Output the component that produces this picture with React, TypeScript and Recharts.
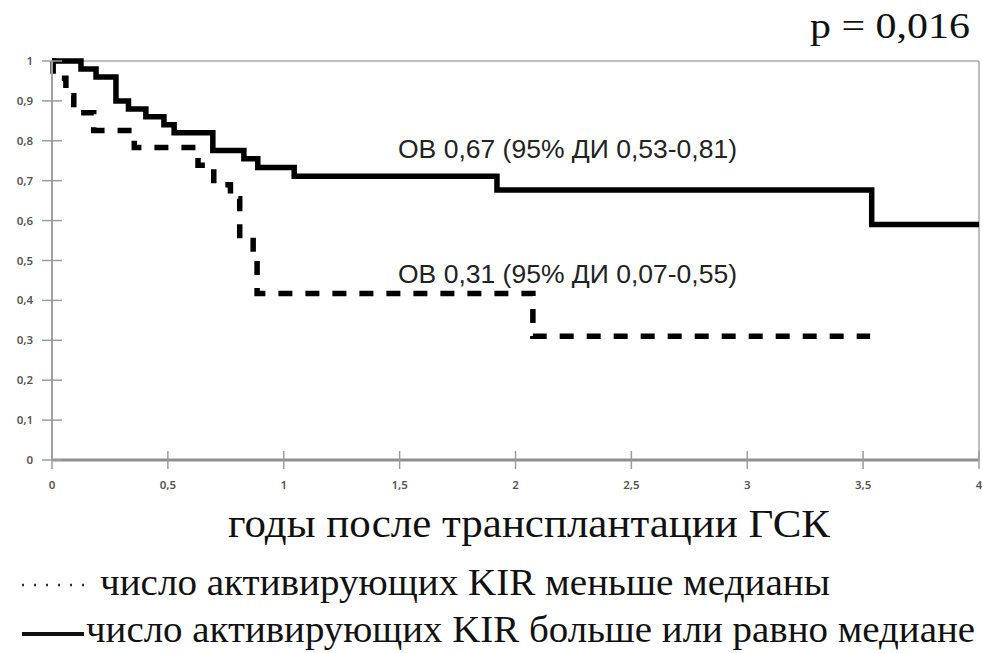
import { Line, LineChart, ReferenceLine, XAxis, YAxis } from 'recharts';

// Kaplan-Meier steps (years, survival)
const solidTimes = [0, 0.125, 0.19, 0.276, 0.33, 0.405, 0.483, 0.527, 0.694, 0.828, 0.888, 1.045, 1.92, 3.537, 4];
const solidSurv = [1, 0.98, 0.96, 0.9, 0.88, 0.86, 0.84, 0.82, 0.776, 0.755, 0.733, 0.711, 0.677, 0.59, 0.59];

const dashTimes = [0, 0.005, 0.06, 0.094, 0.18, 0.355, 0.63, 0.698, 0.77, 0.81, 0.868, 0.885, 2.075, 3.53];
const dashSurv = [1, 0.957, 0.913, 0.87, 0.826, 0.783, 0.739, 0.69, 0.655, 0.55, 0.52, 0.417, 0.31, 0.31];

const xTicks = [0, 0.5, 1, 1.5, 2, 2.5, 3, 3.5, 4];
const yTicks = [0, 0.1, 0.2, 0.3, 0.4, 0.5, 0.6, 0.7, 0.8, 0.9, 1];

const pValue = 'p = 0,016';
const noteHigh = 'ОВ 0,67 (95% ДИ 0,53-0,81)';
const noteLow = 'ОВ 0,31 (95% ДИ 0,07-0,55)';
const xTitle = 'годы после трансплантации ГСК';
const legendLow = 'число активирующих KIR меньше медианы';
const legendHigh = 'число активирующих KIR больше или равно медиане';

const solidData = solidTimes.map((t, i) => ({ t, s: solidSurv[i] }));
const dashData = dashTimes.map((t, i) => ({ t, s: dashSurv[i] }));

const fmt = (v: number) => String(Math.round(v * 10) / 10).replace('.', ',');

const tickFont = { fontFamily: '"Noto Sans", Arial, sans-serif', fontSize: 11.5, fontWeight: 600, fill: '#555' };
const serif = '"Liberation Serif", "Times New Roman", serif';
const sans = '"Liberation Sans", Arial, sans-serif';

const YTick = (props: any) => {
    const { x, y, payload } = props;
    return (
        <g>
            <line x1={x + 9} x2={x + 29} y1={y} y2={y} stroke="#9c9c9c" strokeWidth={1.5} />
            <text x={x} y={y} dy={4} textAnchor="end" {...tickFont}>
                {fmt(payload.value)}
            </text>
        </g>
    );
};

const XTick = (props: any) => {
    const { x, y, payload } = props;
    return (
        <g>
            <line x1={x} x2={x} y1={y - 29} y2={y - 11} stroke="#9c9c9c" strokeWidth={1.5} />
            <text x={x} y={y} dy={9} textAnchor="middle" {...tickFont}>
                {fmt(payload.value)}
            </text>
        </g>
    );
};

export default function App() {
    return (
        <div style={{ position: 'absolute', left: 0, top: 0, width: 982, height: 653, background: '#fff' }}>
            <LineChart width={982} height={653} margin={{ top: 61, right: 3, left: 0, bottom: 153 }}>
                <XAxis
                    type="number"
                    dataKey="t"
                    domain={[0, 4]}
                    ticks={xTicks}
                    interval={0}
                    height={40}
                    tickSize={0}
                    tickMargin={20}
                    tick={XTick}
                    axisLine={{ stroke: '#8f8f8f', strokeWidth: 3 }}
                    allowDuplicatedCategory={false}
                />
                <YAxis
                    type="number"
                    dataKey="s"
                    domain={[0, 1]}
                    ticks={yTicks}
                    interval={0}
                    width={52}
                    tickSize={0}
                    tickMargin={19}
                    tick={YTick}
                    axisLine={{ stroke: '#a0a0a0', strokeWidth: 2 }}
                />
                <ReferenceLine y={1} stroke="#a8a8a8" strokeWidth={1.5} />
                <ReferenceLine x={4} stroke="#a8a8a8" strokeWidth={1.5} />
                <Line
                    data={solidData}
                    dataKey="s"
                    type="stepAfter"
                    stroke="#000"
                    strokeWidth={5.5}
                    dot={false}
                    isAnimationActive={false}
                />
                <Line
                    data={dashData}
                    dataKey="s"
                    type="stepAfter"
                    stroke="#000"
                    strokeWidth={5.5}
                    strokeDasharray="14 13"
                    dot={false}
                    isAnimationActive={false}
                />
            </LineChart>
            <svg
                width={982}
                height={653}
                style={{ position: 'absolute', left: 0, top: 0, pointerEvents: 'none' }}
            >
                <text x={810} y={38} fontFamily={serif} fontSize={36} textLength={160} lengthAdjust="spacingAndGlyphs" fill="#111">
                    {pValue}
                </text>
                <text x={398} y={158} fontFamily={sans} fontSize={26} textLength={339} lengthAdjust="spacingAndGlyphs" fill="#222">
                    {noteHigh}
                </text>
                <text x={398} y={283} fontFamily={sans} fontSize={26} textLength={339} lengthAdjust="spacingAndGlyphs" fill="#222">
                    {noteLow}
                </text>
                <text x={228} y={537} fontFamily={serif} fontSize={39} textLength={602} lengthAdjust="spacingAndGlyphs" fill="#111">
                    {xTitle}
                </text>
                <line x1={22} x2={88} y1={585} y2={585} stroke="#333" strokeWidth={2.5} strokeDasharray="2 10" />
                <text x={100} y={595} fontFamily={serif} fontSize={38} textLength={730} lengthAdjust="spacingAndGlyphs" fill="#111">
                    {legendLow}
                </text>
                <line x1={22} x2={84} y1={634} y2={634} stroke="#111" strokeWidth={4} />
                <text x={86} y={642} fontFamily={serif} fontSize={37} textLength={889} lengthAdjust="spacingAndGlyphs" fill="#111">
                    {legendHigh}
                </text>
            </svg>
        </div>
    );
}
